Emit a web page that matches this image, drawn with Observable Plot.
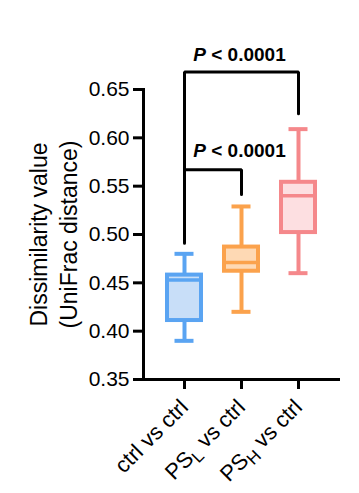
<!DOCTYPE html>
<html><head><meta charset="utf-8">
<script src="https://cdn.jsdelivr.net/npm/d3@7"></script>
<script src="https://cdn.jsdelivr.net/npm/@observablehq/plot@0.6"></script>
<style>body{margin:0;background:#fff}</style>
</head><body><div id="chart"></div>
<script>
const categories = ["ctrl vs ctrl", "PSL vs ctrl", "PSH vs ctrl"];
const whiskerLow = [0.390, 0.420, 0.460];
const q1 = [0.411, 0.462, 0.502];
const median = [0.453, 0.471, 0.540];
const q3 = [0.458, 0.487, 0.554];
const whiskerHigh = [0.480, 0.529, 0.609];
const strokeColors = ["#5aa4f2", "#fba24c", "#f5888b"];
const fillColors = ["#c8def8", "#fed9b4", "#fddfe1"];
const yTicks = [0.35, 0.40, 0.45, 0.50, 0.55, 0.60, 0.65];
const outerBracketX = ["ctrl vs ctrl", "ctrl vs ctrl", "PSH vs ctrl", "PSH vs ctrl"];
const outerBracketY = [0.491, 0.668, 0.668, 0.625];
const innerBracketX = ["ctrl vs ctrl", "PSL vs ctrl", "PSL vs ctrl"];
const innerBracketY = [0.567, 0.567, 0.5414];
const pLabels = ["P < 0.0001", "P < 0.0001"];
const pLabelX = ["PSL vs ctrl", "PSL vs ctrl"];
const pLabelY = [0.679, 0.580];
const yLabel = "Dissimilarity value\n(UniFrac distance)";

const boxes = categories.map((c, i) => ({cat: c, lo: whiskerLow[i], q1: q1[i], med: median[i], q3: q3[i], hi: whiskerHigh[i], stroke: strokeColors[i], fill: fillColors[i]}));
const outer = outerBracketX.map((c, i) => ({cat: c, y: outerBracketY[i]}));
const inner = innerBracketX.map((c, i) => ({cat: c, y: innerBracketY[i]}));
const pRows = pLabels.map((t, i) => ({cat: pLabelX[i], y: pLabelY[i], label: t}));

const chart = Plot.plot({
  width: 359, height: 493,
  marginLeft: 143, marginRight: 19, marginTop: 89, marginBottom: 114,
  style: {fontFamily: "'Liberation Sans', Arial, sans-serif", color: "#000", background: "#fff"},
  x: {type: "band", domain: categories, paddingInner: 0.36, paddingOuter: 0.39, label: null},
  y: {domain: [0.35, 0.65], label: null},
  marks: [
    Plot.ruleX(boxes, {x: "cat", y1: "lo", y2: "q1", stroke: "stroke", strokeWidth: 4}),
    Plot.ruleX(boxes, {x: "cat", y1: "q3", y2: "hi", stroke: "stroke", strokeWidth: 4}),
    Plot.tickY(boxes, {x: "cat", y: "lo", stroke: "stroke", strokeWidth: 4, insetLeft: 8.5, insetRight: 8.5}),
    Plot.tickY(boxes, {x: "cat", y: "hi", stroke: "stroke", strokeWidth: 4, insetLeft: 8.5, insetRight: 8.5}),
    Plot.barY(boxes, {x: "cat", y1: "q1", y2: "q3", fill: "fill", stroke: "stroke", strokeWidth: 4, insetLeft: 1, insetRight: 1}),
    Plot.tickY(boxes, {x: "cat", y: "med", stroke: "stroke", strokeWidth: 3.5, insetLeft: 1, insetRight: 1}),
    Plot.line(outer, {x: "cat", y: "y", stroke: "#000", strokeWidth: 3, strokeLinejoin: "miter"}),
    Plot.line(inner, {x: "cat", y: "y", stroke: "#000", strokeWidth: 3, strokeLinejoin: "miter"}),
    Plot.text(pRows, {x: "cat", y: "y", text: "label", fontSize: 19, fontWeight: "bold", lineAnchor: "bottom", dx: -2}),
    Plot.ruleY([0.35], {stroke: "#000", strokeWidth: 3}),
    Plot.frame({anchor: "left", stroke: "#000", strokeWidth: 3}),
    Plot.axisY({ticks: yTicks, tickSize: 10, tickPadding: 4, tickFormat: d3.format(".2f"), fontSize: 21, strokeWidth: 3, label: null}),
    Plot.axisX({tickSize: 10, tickPadding: 14, tickRotate: -45, fontSize: 22, strokeWidth: 3, label: null}),
    Plot.text([yLabel], {frameAnchor: "left", textAnchor: "middle", lineAnchor: "middle", rotate: -90, dx: -91.5, fontSize: 23, lineHeight: 1.3, text: d => d})
  ]
});
document.getElementById("chart").appendChild(chart);

chart.querySelectorAll("text").forEach(t => {
  const s = t.textContent;
  if (s === "P < 0.0001") {
    t.innerHTML = '<tspan font-style="italic">P</tspan> &lt; 0.0001';
  } else if (s === "PSL vs ctrl" || s === "PSH vs ctrl") {
    const sub = s[2];
    t.innerHTML = 'PS<tspan dy="5" font-size="17">' + sub + '</tspan><tspan dy="-5"> vs ctrl</tspan>';
  }
});
</script>
</body></html>
